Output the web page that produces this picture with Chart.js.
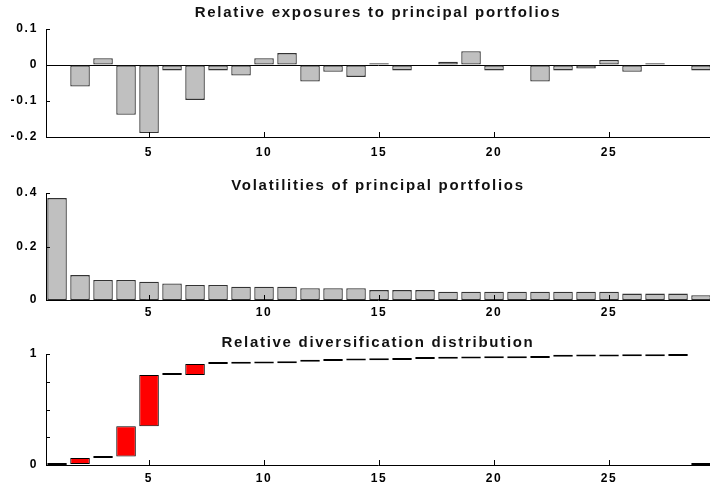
<!DOCTYPE html>
<html><head><meta charset="utf-8">
<script src="https://cdn.jsdelivr.net/npm/chart.js@4.4.1/dist/chart.umd.min.js"></script>
<style>
html,body{margin:0;padding:0;background:#fff;}
body{width:710px;height:486px;position:relative;overflow:hidden;}
canvas{position:absolute;left:0;}
</style></head><body>
<canvas id="c1" width="710" height="165" style="top:0px"></canvas>
<canvas id="c2" width="710" height="160" style="top:165px"></canvas>
<canvas id="c3" width="710" height="161" style="top:325px"></canvas>
<script>
// ---- data ----
const portfolios = [1,2,3,4,5,6,7,8,9,10,11,12,13,14,15,16,17,18,19,20,21,22,23,24,25,26,27,28,29];
const exposures = [0, -0.06, 0.019, -0.138, -0.189, -0.015, -0.097, -0.015, -0.029, 0.019, 0.033, -0.046, -0.019, -0.033, 0.005, -0.015, 0, 0.009, 0.038, -0.015, 0, -0.046, -0.015, -0.01, 0.014, -0.019, 0.005, 0, -0.015];
const volatilities = [0.381, 0.093, 0.075, 0.075, 0.068, 0.062, 0.056, 0.056, 0.05, 0.05, 0.05, 0.044, 0.044, 0.044, 0.037, 0.037, 0.037, 0.031, 0.031, 0.031, 0.031, 0.031, 0.031, 0.031, 0.031, 0.024, 0.024, 0.024, 0.018];
const divLow  = [0, 0.008, 0.063, 0.076, 0.348, 0.81, 0.81, 0.91, 0.912, 0.914, 0.916, 0.93, 0.938, 0.942, 0.944, 0.946, 0.956, 0.958, 0.96, 0.961, 0.962, 0.963, 0.975, 0.977, 0.978, 0.979, 0.98, 0.981, 0];
const divHigh = [0.008, 0.063, 0.076, 0.348, 0.81, 0.812, 0.91, 0.912, 0.914, 0.916, 0.93, 0.938, 0.942, 0.944, 0.946, 0.956, 0.958, 0.96, 0.961, 0.962, 0.963, 0.975, 0.977, 0.978, 0.979, 0.98, 0.981, 0.982, 0.005];
const xTicks = [5, 10, 15, 20, 25];
const exposureTicks = [-0.2, -0.1, 0, 0.1];
const volatilityTicks = [0, 0.2, 0.4];
const divTicks = [0, 0.25, 0.5, 0.75, 1];
const divTickLabels = ['0', '', '', '', '1'];
const titles = ['Relative exposures to principal portfolios', 'Volatilities of principal portfolios', 'Relative diversification distribution'];

// ---- helpers ----
const FONT = "'Liberation Sans', Arial, sans-serif";
const SPACING = '1.7px';
const spacingPlugin = {
  id: 'spacing',
  beforeLayout(chart) { chart.ctx.letterSpacing = SPACING; },
  beforeDraw(chart) { chart.ctx.letterSpacing = SPACING; }
};
const innerTicks = {
  id: 'innerTicks',
  afterDraw(chart) {
    const ctx = chart.ctx, a = chart.chartArea;
    ctx.save();
    ctx.strokeStyle = '#000';
    ctx.lineWidth = 1;
    ctx.beginPath();
    const xs = chart.scales.x, ys = chart.scales.y;
    xs.ticks.forEach(t => {
      const px = Math.round(xs.getPixelForValue(t.value)) + 0.5;
      ctx.moveTo(px, a.bottom); ctx.lineTo(px, a.bottom - 5);
    });
    ys.ticks.forEach(t => {
      const py = Math.round(ys.getPixelForValue(t.value)) + 0.5;
      ctx.moveTo(a.left, py); ctx.lineTo(a.left + 4, py);
    });
    ctx.stroke();
    ctx.restore();
  }
};

function makeChart(id, cfg) {
  return new Chart(document.getElementById(id), {
    type: 'bar',
    data: { datasets: [cfg.dataset] },
    plugins: [spacingPlugin, innerTicks],
    options: {
      responsive: false,
      animation: false,
      layout: { padding: 0 },
      plugins: {
        legend: { display: false },
        tooltip: { enabled: false },
        title: {
          display: true, text: cfg.title, fullSize: false,
          color: '#111',
          font: { family: FONT, size: 15, weight: 'bold', lineHeight: 1 },
          padding: cfg.titlePad
        }
      },
      scales: {
        x: {
          type: 'linear', min: 0.52, max: 29.39, offset: false,
          afterBuildTicks: s => { s.ticks = xTicks.map(v => ({ value: v })); },
          afterFit: s => { s.height = cfg.xHeight; },
          grid: { display: false, drawTicks: false },
          border: { display: true, color: '#000', width: 1 },
          ticks: { autoSkip: false, maxRotation: 0, color: '#000', padding: cfg.xPad,
                   font: { family: FONT, size: 12, weight: 'bold' },
                   callback: v => String(v) }
        },
        y: {
          type: 'linear', min: cfg.yTicks[0], max: cfg.yTicks[cfg.yTicks.length - 1],
          afterBuildTicks: s => { s.ticks = cfg.yTicks.map(v => ({ value: v })); },
          afterFit: s => { s.width = 46; },
          grid: cfg.yGrid || { display: false, drawTicks: false },
          border: { display: true, color: '#000', width: 1 },
          ticks: { autoSkip: false, color: '#000', padding: 8,
                   font: { family: FONT, size: 12, weight: 'bold' },
                   callback: cfg.yLabel }
        }
      }
    }
  });
}

makeChart('c1', {
  title: titles[0],
  titlePad: { top: 5, bottom: 9 },
  xHeight: 28, xPad: 8,
  yTicks: exposureTicks,
  yLabel: v => String(v),
  yGrid: { display: true, drawTicks: false, lineWidth: 1,
           color: c => (c.tick && c.tick.value === 0) ? '#000' : 'rgba(0,0,0,0)' },
  dataset: {
    data: portfolios.map((p, i) => ({ x: p, y: exposures[i] })),
    backgroundColor: '#c0c0c0', borderColor: '#333', borderWidth: 1.3,
    borderSkipped: false, barPercentage: 0.85, categoryPercentage: 1
  }
});

makeChart('c2', {
  title: titles[1],
  titlePad: { top: 13, bottom: 0 },
  xHeight: 25, xPad: 5,
  yTicks: volatilityTicks,
  yLabel: v => String(v),
  dataset: {
    data: portfolios.map((p, i) => ({ x: p, y: volatilities[i] })),
    backgroundColor: '#c0c0c0', borderColor: '#333', borderWidth: 1.3,
    borderSkipped: false, barPercentage: 0.85, categoryPercentage: 1
  }
});

makeChart('c3', {
  title: titles[2],
  titlePad: { top: 10, bottom: 4 },
  xHeight: 21, xPad: 6,
  yTicks: divTicks,
  yLabel: (v, i) => divTickLabels[i],
  dataset: {
    data: portfolios.map((p, i) => ({ x: p, y: [divLow[i], divHigh[i]] })),
    backgroundColor: '#ff0000', borderColor: '#000', borderWidth: 1,
    borderSkipped: false, minBarLength: 2, barPercentage: 0.85, categoryPercentage: 1
  }
});
</script>
</body></html>
